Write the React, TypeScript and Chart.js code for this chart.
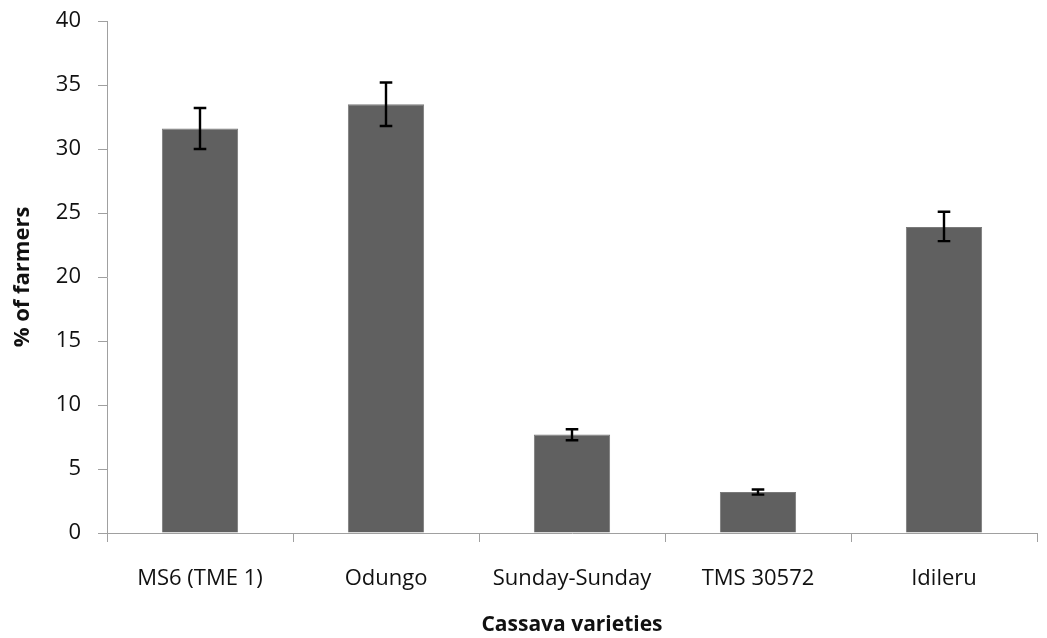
import React, { useEffect, useRef } from "react";
import { Chart, registerables } from "chart.js";

Chart.register(...registerables);

const categories = ["MS6 (TME 1)", "Odungo", "Sunday-Sunday", "TMS 30572", "Idileru"];
const values = [31.6, 33.5, 7.7, 3.2, 23.9];
const errLow = [30.0, 31.8, 7.25, 3.0, 22.8];
const errHigh = [33.2, 35.2, 8.1, 3.4, 25.1];
const yTicks = [0, 5, 10, 15, 20, 25, 30, 35, 40];

const FONT = "'Open Sans'";

const errorBarPlugin = {
  id: "errorBars",
  afterDatasetsDraw(chart: any) {
    const ctx = chart.ctx;
    const meta = chart.getDatasetMeta(0);
    const y = chart.scales.y;
    ctx.save();
    ctx.strokeStyle = "#000000";
    ctx.lineWidth = 2.4;
    meta.data.forEach((bar: any, i: number) => {
      const x = Math.round(bar.x);
      const yl = y.getPixelForValue(errLow[i]);
      const yh = y.getPixelForValue(errHigh[i]);
      const cap = 6.3;
      ctx.beginPath();
      ctx.moveTo(x, yl);
      ctx.lineTo(x, yh);
      ctx.moveTo(x - cap, yl);
      ctx.lineTo(x + cap, yl);
      ctx.moveTo(x - cap, yh);
      ctx.lineTo(x + cap, yh);
      ctx.stroke();
    });
    ctx.restore();
  },
};

export default function App() {
  const ref = useRef<HTMLCanvasElement>(null);
  useEffect(() => {
    document.body.style.margin = "0";
    const chart = new Chart(ref.current!, {
      type: "bar",
      data: {
        labels: categories,
        datasets: [
          {
            data: values,
            backgroundColor: "#606060",
            borderColor: "#7a7a7a",
            borderWidth: 1,
            categoryPercentage: 1,
            barPercentage: 0.41,
          },
        ],
      },
      options: {
        animation: false,
        responsive: false,
        maintainAspectRatio: false,
        layout: { padding: { top: 21, right: 10, left: 0, bottom: 0 } },
        plugins: { legend: { display: false }, tooltip: { enabled: false } },
        scales: {
          x: {
            grid: {
              display: true,
              drawOnChartArea: false,
              drawTicks: true,
              tickLength: 9,
              color: "#a0a0a0",
              offset: true,
            },
            border: { color: "#a0a0a0", width: 1 },
            ticks: {
              color: "#111111",
              font: { family: FONT, size: 22 },
              padding: 24,
              maxRotation: 0,
            },
            title: {
              display: true,
              text: "Cassava varieties",
              color: "#111111",
              font: { family: FONT, size: 21, weight: "bold" },
              padding: { top: 0, bottom: 0 },
            },
            afterFit(scale: any) {
              scale.height = 105;
              scale.paddingLeft = 0;
              scale.paddingRight = 0;
            },
          },
          y: {
            min: 0,
            max: 40,
            afterBuildTicks(scale: any) {
              scale.ticks = yTicks.map((v) => ({ value: v }));
            },
            grid: {
              display: true,
              drawOnChartArea: false,
              drawTicks: true,
              tickLength: 9,
              color: "#a0a0a0",
            },
            border: { color: "#a0a0a0", width: 1 },
            ticks: {
              color: "#111111",
              font: { family: FONT, size: 22 },
              padding: 17,
            },
            title: {
              display: true,
              text: "% of farmers",
              color: "#111111",
              font: { family: FONT, size: 22, weight: "bold" },
              padding: { top: 10, bottom: 0 },
            },
            afterFit(scale: any) {
              scale.width = 107;
              scale.paddingTop = 0;
              scale.paddingBottom = 0;
            },
          },
        },
      },
      plugins: [errorBarPlugin],
    });
    return () => chart.destroy();
  }, []);
  return (
    <div style={{ width: 1047, height: 638 }}>
      <canvas ref={ref} width={1047} height={638} />
    </div>
  );
}
